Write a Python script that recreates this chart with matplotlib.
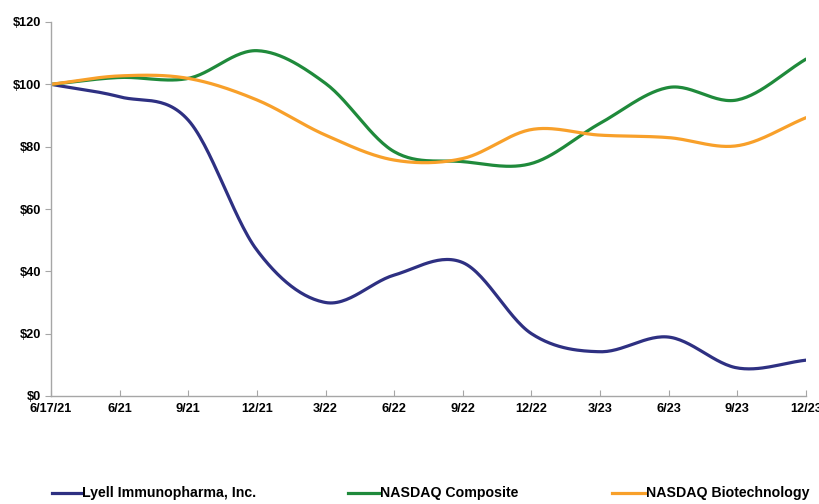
from __future__ import annotations

import matplotlib

matplotlib.use("Agg")

import matplotlib.pyplot as mp
import numpy as np
from matplotlib.lines import Line2D

# {{{ data

dates = [
    "6/17/21", "6/21", "9/21", "12/21", "3/22", "6/22",
    "9/22", "12/22", "3/23", "6/23", "9/23", "12/23",
]
lyell = [100.0, 96.0, 88.5, 46.8, 30.0, 38.8, 42.8, 20.0, 14.2, 18.9, 9.0, 11.5]
nasdaq_composite = [100.0, 102.2, 101.9, 110.8, 100.3, 78.4, 75.2, 74.6, 87.5, 99.0, 95.0, 108.1]
nasdaq_biotech = [100.0, 102.7, 101.9, 95.0, 83.7, 75.7, 76.2, 85.5, 83.7, 82.9, 80.3, 89.3]

series_names = [
    "Lyell Immunopharma, Inc.",
    "NASDAQ Composite",
    "NASDAQ Biotechnology",
]
yticks = [0, 20, 40, 60, 80, 100, 120]

# }}}

COLORS = ["#2e3082", "#1f8a3b", "#f8a02a"]
FONT = ["Liberation Sans", "DejaVu Sans"]


def smooth(y: list[float], nsub: int = 30) -> tuple[np.ndarray, np.ndarray]:
    # excel-style smoothed line (catmull-rom through the data points)
    p = np.asarray(y, dtype=float)
    n = p.size
    pp = np.concatenate([[2 * p[0] - p[1]], p, [2 * p[-1] - p[-2]]])
    xs, ys = [], []
    t = np.linspace(0.0, 1.0, nsub, endpoint=False)
    for i in range(n - 1):
        p0, p1, p2, p3 = pp[i], pp[i + 1], pp[i + 2], pp[i + 3]
        yy = 0.5 * (
            2 * p1
            + (-p0 + p2) * t
            + (2 * p0 - 5 * p1 + 4 * p2 - p3) * t**2
            + (-p0 + 3 * p1 - 3 * p2 + p3) * t**3
        )
        xs.append(i + t)
        ys.append(yy)
    xs.append(np.array([n - 1.0]))
    ys.append(np.array([p[-1]]))
    return np.concatenate(xs), np.concatenate(ys)


fig = mp.figure(figsize=(8.19, 5.04), dpi=100)
ax = fig.add_axes([51 / 819, 108 / 504, (806 - 51) / 819, (396 - 22) / 504])

x = np.arange(len(dates))
for values, color in zip([lyell, nasdaq_composite, nasdaq_biotech], COLORS):
    sx, sy = smooth(values)
    ax.plot(sx, sy, color=color, lw=2.3, solid_capstyle="round")

ax.set_xlim(0, len(dates) - 1)
ax.set_ylim(0, 120)
ax.set_xticks(x)
ax.set_xticklabels(dates)
ax.set_yticks(yticks)
ax.set_yticklabels([f"${v}" for v in yticks])

for side in ("top", "right"):
    ax.spines[side].set_visible(False)
for side in ("left", "bottom"):
    ax.spines[side].set_color("#a6a6a6")
    ax.spines[side].set_linewidth(1.0)

ax.tick_params(axis="x", direction="in", length=4, color="#a6a6a6", pad=5)
ax.tick_params(axis="y", direction="out", length=4, color="#a6a6a6", pad=3)
for lab in ax.get_xticklabels() + ax.get_yticklabels():
    lab.set_family(FONT)
    lab.set_weight("bold")
    lab.set_fontsize(9.2)

# legend, laid out by hand along the bottom
legend_pos = [(52, 81), (348, 379), (612, 645)]
ly = 1 - 493 / 504
for name, color, (x0, x1) in zip(series_names, COLORS, legend_pos):
    fig.add_artist(
        Line2D([x0 / 819, x1 / 819], [ly, ly], color=color, lw=2.3,
               transform=fig.transFigure)
    )
    fig.text((x1 + 1) / 819, ly, name, va="center", ha="left",
             family=FONT, weight="bold", fontsize=10.2)

fig.savefig("out.png", dpi=100)
